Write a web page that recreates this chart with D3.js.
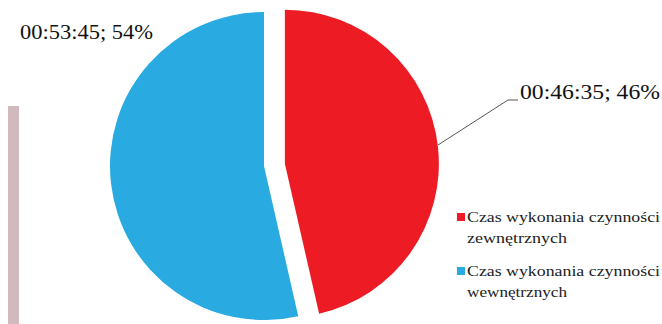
<!DOCTYPE html>
<html><head><meta charset="utf-8">
<script src="https://cdn.jsdelivr.net/npm/d3@7"></script>
<style>html,body{margin:0;padding:0;background:#fff;}svg{display:block;}</style>
</head><body>
<svg id="c" width="662" height="324"></svg>
<script>
const categories = ["Czas wykonania czynności zewnętrznych", "Czas wykonania czynności wewnętrznych"];
const legendLines = [["Czas wykonania czynności", "zewnętrznych"], ["Czas wykonania czynności", "wewnętrznych"]];
const timeLabels = ["00:46:35", "00:53:45"];
const seconds = [2795, 3225];
const percents = [46, 54];
const colors = ["#ed1c24", "#29abe2"];

const svg = d3.select("#c");
const font = "Liberation Serif, Times New Roman, serif";

// decorative bar on left
svg.append("rect").attr("x", 8).attr("y", 106).attr("width", 11).attr("height", 218).attr("fill", "#d1babd");

const cx = 264, cy = 166, r = 154, explode = 21;
const pie = d3.pie().sort(null).value(d => d)(seconds);
const arc = d3.arc().innerRadius(0).outerRadius(r);
const g = svg.append("g").attr("transform", `translate(${cx},${cy})`);
g.selectAll("path").data(pie).join("path")
  .attr("d", arc)
  .attr("fill", (d, i) => colors[i])
  .attr("transform", (d, i) => {
    if (i !== 0) return null;
    const m = (d.startAngle + d.endAngle) / 2;
    return `translate(${explode * Math.sin(m)},${-explode * Math.cos(m)})`;
  });

// leader line for red slice
svg.append("polyline")
  .attr("points", "438,145 508,100 518,100")
  .attr("fill", "none").attr("stroke", "#555").attr("stroke-width", 1);

const labelText = i => `${timeLabels[i]}; ${percents[i]}%`;
svg.append("text").attr("x", 520).attr("y", 98.5)
  .attr("font-family", font).attr("font-size", 20).attr("fill", "#111")
  .attr("textLength", 140).attr("lengthAdjust", "spacingAndGlyphs")
  .text(labelText(0));
svg.append("text").attr("x", 20).attr("y", 38.5)
  .attr("font-family", font).attr("font-size", 20).attr("fill", "#111")
  .attr("textLength", 133).attr("lengthAdjust", "spacingAndGlyphs")
  .text(labelText(1));

// legend
const legTop = [222, 276];
legendLines.forEach((lines, i) => {
  svg.append("rect").attr("x", 457).attr("y", legTop[i] - 9).attr("width", 8).attr("height", 8).attr("fill", colors[i]);
  svg.append("text").attr("x", 467).attr("y", legTop[i])
    .attr("font-family", font).attr("font-size", 15.5).attr("fill", "#222")
    .attr("textLength", 193).attr("lengthAdjust", "spacingAndGlyphs")
    .text(lines[0]);
  svg.append("text").attr("x", 467).attr("y", legTop[i] + 21)
    .attr("font-family", font).attr("font-size", 15.5).attr("fill", "#222")
    .attr("textLength", 100).attr("lengthAdjust", "spacingAndGlyphs")
    .text(lines[1]);
});
</script>
</body></html>
